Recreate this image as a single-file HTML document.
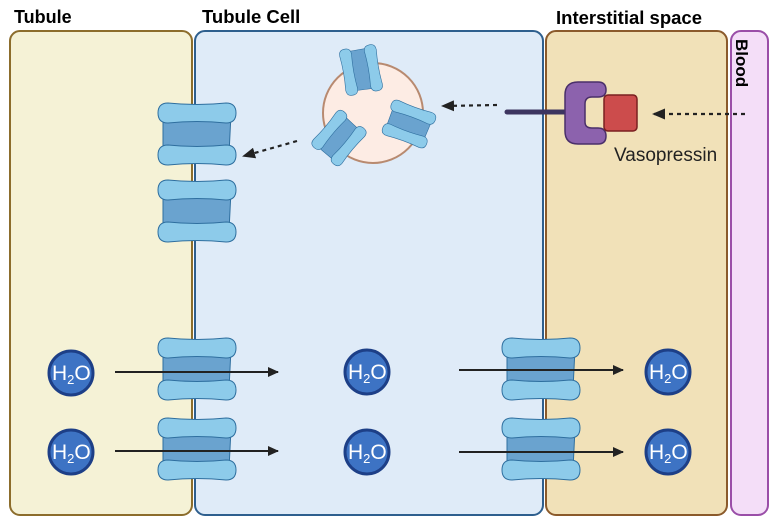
<!DOCTYPE html>
<html><head><meta charset="utf-8"><style>
body{margin:0;background:#fff;}
svg{display:block;font-family:"Liberation Sans",sans-serif;}
</style></head><body>
<svg width="778" height="521" viewBox="0 0 778 521" xmlns="http://www.w3.org/2000/svg">
<defs>
<g id="ch">
<path d="M-34,-20 Q-34,-30 -24,-30 Q0,-27 24,-30 Q34,-30 34,-20 L32,20 Q34,30 24,30 Q0,27 -24,30 Q-34,30 -34,20 Z" fill="#6aa3cf" stroke="#2f6f9f" stroke-width="1"/>
<path d="M-39,-21 Q-39,-31 -29,-31 Q0,-28 29,-31 Q39,-31 39,-21 Q39,-11 29,-11 Q0,-14 -29,-11 Q-39,-11 -39,-21 Z" fill="#8dcbea" stroke="#2f6f9f" stroke-width="1"/>
<path d="M-39,21 Q-39,11 -29,11 Q0,14 29,11 Q39,11 39,21 Q39,31 29,31 Q0,28 -29,31 Q-39,31 -39,21 Z" fill="#8dcbea" stroke="#2f6f9f" stroke-width="1"/>
</g>
<g id="h2o">
<circle r="22" fill="#3d73c4" stroke="#1d3f87" stroke-width="3"/>
<text x="-19" y="7" font-size="21" fill="#fff">H<tspan font-size="13" dy="4">2</tspan><tspan dy="-4">O</tspan></text>
</g>
<marker id="ah" markerWidth="11" markerHeight="10" refX="10" refY="5" orient="auto" markerUnits="userSpaceOnUse"><path d="M0,0 L11,5 L0,10Z" fill="#222"/></marker>
<marker id="ah2" markerWidth="13" markerHeight="11" refX="11" refY="5.5" orient="auto" markerUnits="userSpaceOnUse"><path d="M0,0 L13,5.5 L0,11Z" fill="#222"/></marker>
</defs>
<rect x="10" y="31" width="182" height="484" rx="10" fill="#f5f2d6" stroke="#8c6d2c" stroke-width="2"/>
<rect x="195" y="31" width="348" height="484" rx="10" fill="#dfebf8" stroke="#2e5f8e" stroke-width="2"/>
<rect x="546" y="31" width="181" height="484" rx="10" fill="#f1e1b8" stroke="#8b5a2b" stroke-width="2"/>
<rect x="731" y="31" width="37" height="484" rx="10" fill="#f4def8" stroke="#9a4ea8" stroke-width="2"/>
<text x="14" y="23" font-size="18" font-weight="bold">Tubule</text>
<text x="202" y="23" font-size="18.5" font-weight="bold">Tubule Cell</text>
<text x="556" y="24" font-size="18.5" font-weight="bold">Interstitial space</text>
<text transform="translate(736,39) rotate(90)" font-size="17" font-weight="bold">Blood</text>
<circle cx="373" cy="113" r="50" fill="#fdece4" stroke="#b88a70" stroke-width="2"/>
<use href="#ch" transform="translate(361,70) rotate(80) scale(0.6)"/>
<use href="#ch" transform="translate(339,138) rotate(-50) scale(0.6)"/>
<use href="#ch" transform="translate(409,124) rotate(20) scale(0.6)"/>
<use href="#ch" transform="translate(197,134)"/>
<use href="#ch" transform="translate(197,211)"/>
<use href="#ch" transform="translate(197,369)"/>
<use href="#ch" transform="translate(197,449)"/>
<use href="#ch" transform="translate(541,369)"/>
<use href="#ch" transform="translate(541,449)"/>
<line x1="507" y1="112" x2="570" y2="112" stroke="#3d3560" stroke-width="5" stroke-linecap="round"/>
<path d="M578,82 H598 Q606,82 606,90 Q606,97 598,97 H592 Q585,97 585,104 V122 Q585,128 592,128 H598 Q606,128 606,136 Q606,144 598,144 H578 Q565,144 565,131 V95 Q565,82 578,82 Z" fill="#8c62ad" stroke="#4a2f6a" stroke-width="1.5"/>
<rect x="604" y="95" width="33" height="36" rx="4" fill="#cc4c4c" stroke="#7a2020" stroke-width="1.5"/>
<text x="614" y="161" font-size="19" fill="#222">Vasopressin</text>
<line x1="745" y1="114" x2="654" y2="114" stroke="#222" stroke-width="2.2" stroke-dasharray="4,4" marker-end="url(#ah2)"/>
<line x1="497" y1="105" x2="443" y2="106" stroke="#222" stroke-width="2.2" stroke-dasharray="4,4" marker-end="url(#ah2)"/>
<line x1="297" y1="141" x2="244" y2="156" stroke="#222" stroke-width="2.2" stroke-dasharray="4,4" marker-end="url(#ah2)"/>
<line x1="115" y1="372" x2="278" y2="372" stroke="#222" stroke-width="2" marker-end="url(#ah)"/>
<line x1="115" y1="451" x2="278" y2="451" stroke="#222" stroke-width="2" marker-end="url(#ah)"/>
<line x1="459" y1="370" x2="623" y2="370" stroke="#222" stroke-width="2" marker-end="url(#ah)"/>
<line x1="459" y1="452" x2="623" y2="452" stroke="#222" stroke-width="2" marker-end="url(#ah)"/>
<use href="#h2o" transform="translate(71,373)"/>
<use href="#h2o" transform="translate(71,452)"/>
<use href="#h2o" transform="translate(367,372)"/>
<use href="#h2o" transform="translate(367,452)"/>
<use href="#h2o" transform="translate(668,372)"/>
<use href="#h2o" transform="translate(668,452)"/>
</svg>
</body></html>
